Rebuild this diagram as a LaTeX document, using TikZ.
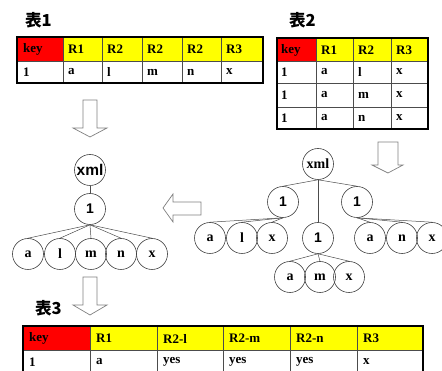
\documentclass[tikz,border=0pt]{standalone}
\usepackage{fontspec}
\setmainfont{Liberation Serif}
\setsansfont{Liberation Sans}
\newfontfamily\cjk{Noto Sans CJK JP}
\definecolor{keyred}{HTML}{FF0000}
\definecolor{hdryellow}{HTML}{FFFF00}
\definecolor{arrowgray}{HTML}{808080}
\tikzset{
  cell/.style={anchor=west, inner sep=0pt, font=\fontsize{13}{14}\selectfont\bfseries},
  title/.style={anchor=west, inner sep=0pt, font=\cjk\bfseries\fontsize{16.5}{18}\selectfont},
  vnode/.style={circle, draw=black!75, line width=0.6pt, minimum size=31pt, inner sep=0pt,
                font=\fontsize{14}{15}\selectfont\bfseries},
  snode/.style={vnode, font=\sffamily\fontsize{14}{15}\selectfont\bfseries},
  edge/.style={draw=black!70, line width=0.5pt},
  gridline/.style={draw=black!70, line width=0.5pt},
  frame/.style={draw=black, line width=1.6pt},
  blockarrow/.style={draw=arrowgray, line width=0.7pt, fill=white, line join=miter}
}
\begin{document}
\begin{tikzpicture}[x=1pt,y=-1pt]
\useasboundingbox (0,0) rectangle (442,371);

% ---------- table 1 ----------
\node[title] (title1) at (25,20) {表1};
\fill[keyred] (17,37) rectangle (63,61);
\fill[hdryellow] (63,37) rectangle (263,61);
\foreach \x in {63,102,142,182,221} \draw[gridline] (\x,37) -- (\x,83);
\draw[gridline] (17,61) -- (263,61);
\draw[frame] (17,37) rectangle (263,83);
\foreach \x/\t [count=\i] in {23/key,68/R1,107/R2,147/R2,187/R2,226/R3}
  \node[cell] (t1h\i) at (\x,49.5) {\t};
\foreach \x/\t [count=\i] in {23/1,68/a,107/l,147/m,187/n,226/x}
  \node[cell] (t1r\i) at (\x,72) {\t};

% ---------- table 2 ----------
\node[title] (title2) at (289,20) {表2};
\fill[keyred] (277,38) rectangle (316,61);
\fill[hdryellow] (316,38) rectangle (428,61);
\foreach \x in {316,353,391} \draw[gridline] (\x,38) -- (\x,129);
\foreach \y in {61,83,107} \draw[gridline] (277,\y) -- (428,\y);
\draw[frame] (277,38) rectangle (428,129);
\foreach \x/\t [count=\i] in {281/key,321/R1,358/R2,396/R3}
  \node[cell] (t2h\i) at (\x,50) {\t};
\foreach \y [count=\r] in {72,95,118}
  \foreach \x/\t [count=\i] in {281/1,321/a,396/x}
    \node[cell] (t2r\r c\i) at (\x,\y) {\t};
\node[cell] (t2l) at (358,72) {l};
\node[cell] (t2m) at (358,95) {m};
\node[cell] (t2n) at (358,118) {n};

% ---------- table 3 ----------
\node[title] (title3) at (35,308) {表3};
\fill[keyred] (23,326) rectangle (90,350);
\fill[hdryellow] (90,326) rectangle (423,350);
\foreach \x in {90,157,223,290,357} \draw[gridline] (\x,326) -- (\x,380);
\draw[gridline] (23,350) -- (423,350);
\draw[frame] (23,380) -- (23,326) -- (423,326) -- (423,380);
\foreach \x/\t [count=\i] in {29/key,96/R1,163/R2-l,229/R2-m,296/R2-n,363/R3}
  \node[cell] (t3h\i) at (\x,338.5) {\t};
\foreach \x/\t [count=\i] in {29/1,96/a,163/yes,229/yes,296/yes,363/x}
  \node[cell] (t3r\i) at (\x,362) {\t};

% ---------- hollow block arrows ----------
% down, below table 1
\draw[blockarrow] (83,100) -- (97,100) -- (97,128) -- (107,128) -- (90,137)
  -- (73,128) -- (83,128) -- cycle;
% down, below table 2
\draw[blockarrow] (378,142) -- (398,142) -- (398,165) -- (403,165) -- (388,173)
  -- (372,165) -- (378,165) -- cycle;
% left, between the trees
\draw[blockarrow] (201,202) -- (173,202) -- (173,194) -- (163,208) -- (173,222)
  -- (173,215) -- (201,215) -- cycle;
% down, below tree 1
\draw[blockarrow] (83,277) -- (97,277) -- (97,305) -- (107,305) -- (90,315)
  -- (73,305) -- (83,305) -- cycle;

% ---------- tree 1 ----------
\node[snode, font=\sffamily\fontsize{15.5}{16}\selectfont\bfseries] (xmlA) at (90,170) {xml};
\node[snode] (oneA) at (90,209) {1};
\foreach \x/\t/\n in {28/a/aA,60/l/lA,91/m/mA,121/n/nA,152/x/xA}
  \node[vnode] (\n) at (\x,254) {\t};
\draw[edge] (xmlA) -- (oneA);
\foreach \n in {aA,lA,mA,nA,xA}
  \draw[edge] (oneA.south) -- (\n.north);

% ---------- tree 2 ----------
\node[vnode] (xmlB) at (318,164) {xml};
\node[snode] (oneL) at (283,202) {1};
\node[snode] (oneM) at (318,238) {1};
\node[snode] (oneR) at (357,202) {1};
\foreach \x/\t/\n in {210/a/aL,242/l/lL,272/x/xL}
  \node[vnode] (\n) at (\x,238) {\t};
\foreach \x/\t/\n in {370/a/aR,402/n/nR,432/x/xR}
  \node[vnode] (\n) at (\x,238) {\t};
\foreach \x/\t/\n in {290/a/aM,320/m/mM,349/x/xM}
  \node[vnode] (\n) at (\x,277) {\t};
\foreach \n in {oneL,oneM,oneR}
  \draw[edge] (xmlB.south) -- (\n.north);
\foreach \n in {aL,lL,xL}
  \draw[edge] (oneL.south) -- (\n.north);
\foreach \n in {aR,nR,xR}
  \draw[edge] (oneR.south) -- (\n.north);
\foreach \n in {aM,mM,xM}
  \draw[edge] (oneM.south) -- (\n.north);
\end{tikzpicture}
\end{document}
